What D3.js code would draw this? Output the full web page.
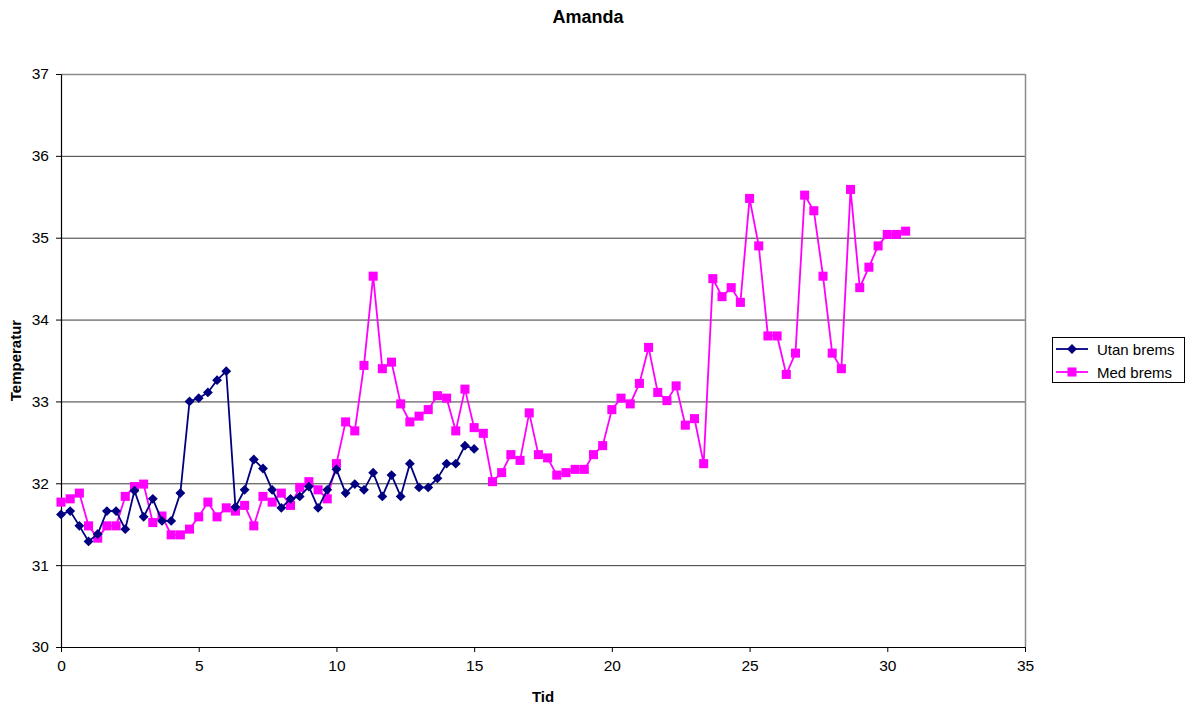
<!DOCTYPE html>
<html>
<head>
<meta charset="utf-8">
<script src="https://cdn.jsdelivr.net/npm/d3@7"></script>
<style>
  body { margin: 0; background: #fff; }
  svg { display: block; font-family: "Liberation Sans", Arial, sans-serif; }
</style>
</head>
<body>
<svg id="chart" width="1193" height="709"></svg>
<script>
// Temperature readings, one sample every 20 seconds (time in minutes)
const sampleStep = 1 / 3;

const utanBrems = [
  31.62, 31.66, 31.48, 31.29, 31.38, 31.66, 31.66, 31.44, 31.91, 31.59,
  31.81, 31.54, 31.54, 31.88, 33.00, 33.04, 33.11, 33.26, 33.37, 31.71,
  31.92, 32.29, 32.18, 31.92, 31.70, 31.81, 31.84, 31.96, 31.70, 31.92,
  32.17, 31.88, 31.99, 31.92, 32.13, 31.84, 32.10, 31.84, 32.24, 31.95,
  31.95, 32.06, 32.24, 32.24, 32.46, 32.42
];

const medBrems = [
  31.77, 31.81, 31.88, 31.48, 31.33, 31.48, 31.48, 31.84, 31.96, 31.99,
  31.52, 31.60, 31.37, 31.37, 31.44, 31.59, 31.77, 31.59, 31.70, 31.66,
  31.73, 31.48, 31.84, 31.77, 31.88, 31.73, 31.95, 32.02, 31.92, 31.81,
  32.24, 32.75, 32.64, 33.44, 34.53, 33.40, 33.48, 32.97, 32.75, 32.82,
  32.90, 33.07, 33.04, 32.64, 33.15, 32.68, 32.61, 32.02, 32.13, 32.35,
  32.28, 32.86, 32.35, 32.31, 32.10, 32.13, 32.17, 32.17, 32.35, 32.46,
  32.90, 33.04, 32.97, 33.22, 33.66, 33.11, 33.01, 33.19, 32.71, 32.79,
  32.24, 34.50, 34.28, 34.39, 34.21, 35.48, 34.90, 33.80, 33.80, 33.33,
  33.59, 35.52, 35.33, 34.53, 33.59, 33.40, 35.59, 34.39, 34.64, 34.90,
  35.04, 35.04, 35.08
];

const xTicks = [0, 5, 10, 15, 20, 25, 30, 35];
const yTicks = [30, 31, 32, 33, 34, 35, 36, 37];
const seriesNames = ["Utan brems", "Med brems"];
const seriesColors = ["#000080", "#FF00FF"];

const svg = d3.select("#chart");
const plot = { left: 61, top: 74, right: 1025, bottom: 647 };

const x = d3.scaleLinear().domain([0, 35]).range([plot.left, plot.right]);
const y = d3.scaleLinear().domain([30, 37]).range([plot.bottom, plot.top]);

// Title
svg.append("text")
  .attr("x", 588).attr("y", 23)
  .attr("text-anchor", "middle")
  .attr("font-size", 18).attr("font-weight", "bold")
  .text("Amanda");

// Horizontal gridlines
svg.append("g")
  .selectAll("line")
  .data(yTicks.filter(v => v > 30 && v < 37))
  .join("line")
  .attr("x1", plot.left).attr("x2", plot.right)
  .attr("y1", d => y(d) + 0.5).attr("y2", d => y(d) + 0.5)
  .attr("stroke", "#3a3a3a").attr("stroke-width", 1);

// Plot frame: top and right edges in gray
svg.append("line")
  .attr("x1", plot.left).attr("x2", plot.right)
  .attr("y1", plot.top + 0.5).attr("y2", plot.top + 0.5)
  .attr("stroke", "#8c8c8c").attr("stroke-width", 1.5);
svg.append("line")
  .attr("x1", plot.right + 0.5).attr("x2", plot.right + 0.5)
  .attr("y1", plot.top).attr("y2", plot.bottom)
  .attr("stroke", "#8c8c8c").attr("stroke-width", 1.5);

// Axes
const xAxis = svg.append("g")
  .attr("transform", `translate(0,${plot.bottom})`)
  .call(d3.axisBottom(x).tickValues(xTicks).tickFormat(d3.format("d"))
    .tickSize(5).tickSizeOuter(0).tickPadding(8));
const yAxis = svg.append("g")
  .attr("transform", `translate(${plot.left},0)`)
  .call(d3.axisLeft(y).tickValues(yTicks).tickFormat(d3.format("d"))
    .tickSize(5).tickSizeOuter(0).tickPadding(7));

[xAxis, yAxis].forEach(a => {
  a.select(".domain").attr("stroke", "#000").attr("stroke-width", 1.2);
  a.selectAll(".tick line").attr("stroke", "#000");
  a.selectAll(".tick text")
    .attr("font-family", "'Liberation Sans', Arial, sans-serif")
    .attr("font-size", 15.5).attr("fill", "#000");
});

// Axis titles
svg.append("text")
  .attr("x", 543).attr("y", 702)
  .attr("text-anchor", "middle")
  .attr("font-size", 15).attr("font-weight", "bold")
  .text("Tid");
svg.append("text")
  .attr("transform", `translate(21,${(plot.top + plot.bottom) / 2}) rotate(-90)`)
  .attr("text-anchor", "middle")
  .attr("font-size", 15).attr("font-weight", "bold")
  .text("Temperatur");

// Series
const line = d3.line().x(d => x(d.t)).y(d => y(d.v));
const toPoints = arr => arr.map((v, i) => ({ t: i * sampleStep, v }));

const diamond = d3.symbol().type(d3.symbolDiamond2).size(62);
const square = d3.symbol().type(d3.symbolSquare).size(82);

function drawSeries(values, color, symbolGen) {
  const pts = toPoints(values);
  svg.append("path")
    .datum(pts)
    .attr("d", line)
    .attr("fill", "none")
    .attr("stroke", color)
    .attr("stroke-width", 1.8);
  svg.append("g")
    .selectAll("path")
    .data(pts)
    .join("path")
    .attr("transform", d => `translate(${x(d.t)},${y(d.v)})`)
    .attr("d", symbolGen)
    .attr("fill", color);
}

drawSeries(medBrems, seriesColors[1], square);
drawSeries(utanBrems, seriesColors[0], diamond);

// Legend
const legend = svg.append("g");
legend.append("rect")
  .attr("x", 1052.5).attr("y", 337.5)
  .attr("width", 132).attr("height", 45)
  .attr("fill", "#fff").attr("stroke", "#000").attr("stroke-width", 1);

const legendSymbols = [diamond, square];
seriesNames.forEach((name, i) => {
  const cy = 349 + i * 23;
  legend.append("line")
    .attr("x1", 1056).attr("x2", 1088)
    .attr("y1", cy).attr("y2", cy)
    .attr("stroke", seriesColors[i]).attr("stroke-width", 1.8);
  legend.append("path")
    .attr("transform", `translate(1072,${cy})`)
    .attr("d", legendSymbols[i])
    .attr("fill", seriesColors[i]);
  legend.append("text")
    .attr("x", 1097).attr("y", cy + 5.5)
    .attr("font-size", 15)
    .text(name);
});
</script>
</body>
</html>
